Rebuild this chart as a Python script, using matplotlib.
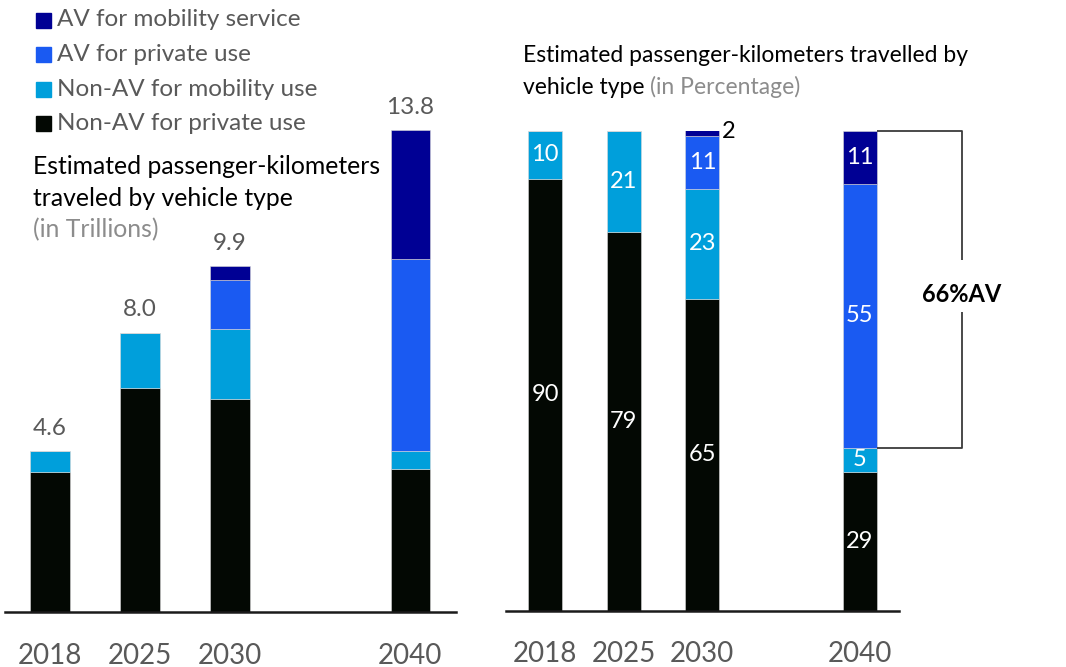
import matplotlib
matplotlib.use("Agg")
import matplotlib.pyplot as plt
import numpy as np

plt.rcParams['font.family'] = ['Lato', 'DejaVu Sans']

# ---- data ----
years = ["2018", "2025", "2030", "2040"]
positions = [0, 1, 2, 4]
series_names = ["Non-AV for private use", "Non-AV for mobility use",
                "AV for private use", "AV for mobility service"]
colors = ["#030803", "#009FDB", "#1A5AF2", "#000094"]

# passenger-km in trillions
trn_nonav_private = [4.0, 6.4, 6.1, 4.1]
trn_nonav_mobility = [0.6, 1.6, 2.0, 0.5]
trn_av_private = [0.0, 0.0, 1.4, 5.5]
trn_av_mobility = [0.0, 0.0, 0.4, 3.7]
trn_totals = [4.6, 8.0, 9.9, 13.8]

# shares in percent
pct_nonav_private = [90, 79, 65, 29]
pct_nonav_mobility = [10, 21, 23, 5]
pct_av_private = [0, 0, 11, 55]
pct_av_mobility = [0, 0, 2, 11]
av_share_2040 = 66

W, H = 1066, 667
fig = plt.figure(figsize=(W / 100, H / 100), dpi=100)

GREY = "#595959"
LIGHT = "#8C8C8C"


def px_axes(x0, y_top, x1, y_bottom):
    return fig.add_axes([x0 / W, 1 - y_bottom / H, (x1 - x0) / W, (y_bottom - y_top) / H])


def ftext(x, y, s, **kw):
    return fig.text(x / W, 1 - y / H, s, **kw)


def style_axes(ax):
    for side in ["left", "right", "top"]:
        ax.spines[side].set_visible(False)
    ax.spines["bottom"].set_linewidth(1.8)
    ax.spines["bottom"].set_color("#1a1a1a")
    ax.set_yticks([])
    ax.set_xticks(positions)
    ax.set_xticklabels(years, fontsize=20, color=GREY)
    ax.tick_params(axis="x", length=0, pad=22)
    ax.set_xlim(-0.5, 4.51)


BAR_W = 0.435

# ---- left panel: trillions ----
axL = px_axes(5, 130, 456, 612)
stackL = [trn_nonav_private, trn_nonav_mobility, trn_av_private, trn_av_mobility]
bottom = np.zeros(len(years))
for vals, c in zip(stackL, colors):
    vals = np.array(vals, dtype=float)
    axL.bar(positions, vals, BAR_W, bottom=bottom, color=c,
            edgecolor="#d9d9d9", linewidth=0.4)
    bottom += vals
axL.set_ylim(0, 13.8)
style_axes(axL)
for p, t in zip(positions, trn_totals):
    axL.annotate(f"{t:.1f}", (p, t), xytext=(0, 9), textcoords="offset points",
                 ha="center", va="bottom", fontsize=17.5, color=GREY,
                 annotation_clip=False)

# ---- right panel: percentages ----
axR = px_axes(505.7, 131, 899, 610.7)
stackR = [pct_nonav_private, pct_nonav_mobility, pct_av_private, pct_av_mobility]
bottom = np.zeros(len(years))
for k, (vals, c) in enumerate(zip(stackR, colors)):
    vals = np.array(vals, dtype=float)
    axR.bar(positions, vals, BAR_W, bottom=bottom, color=c,
            edgecolor="#d9d9d9", linewidth=0.4)
    for p, v, b in zip(positions, vals, bottom):
        if v <= 0:
            continue
        if v < 4:
            axR.text(p + BAR_W / 2 + 0.03, b + v / 2, f"{v:.0f}", ha="left",
                     va="center", fontsize=17, color="black", clip_on=False)
        else:
            axR.text(p, b + v / 2, f"{v:.0f}", ha="center", va="center",
                     fontsize=17, color="white")
    bottom += vals
axR.set_ylim(0, 100)
style_axes(axR)
axR.set_xlim(-0.5, 4.5)

# bracket marking the AV share in 2040
x_edge = 4 + BAR_W / 2
x_br = 5.295
y_lo = pct_nonav_private[3] + pct_nonav_mobility[3]
y_hi = 100
y_mid = (y_lo + y_hi) / 2
gap = 6.2
br_kw = dict(color="#3a3a3a", lw=1.3, clip_on=False, solid_capstyle="butt")
axR.plot([x_edge, x_br, x_br], [y_hi, y_hi, y_mid + gap], **br_kw)
axR.plot([x_edge, x_br, x_br], [y_lo, y_lo, y_mid - gap + 1.5], **br_kw)
axR.text(x_br, y_mid - 1, f"{av_share_2040}%AV", ha="center", va="center",
         fontsize=17, fontweight="bold", color="black", clip_on=False)

# ---- legend ----
legend_items = list(zip(series_names, colors))[::-1]
for i, (name, c) in enumerate(legend_items):
    y = 20 + i * 34.5
    fig.patches.append(plt.Rectangle((36 / W, 1 - (y + 7.5) / H), 15 / W, 15 / H,
                                     transform=fig.transFigure, color=c))
    ftext(57, y, name, fontsize=17.5, color=GREY, va="center", ha="left")

# ---- panel titles ----
ftext(33, 167, "Estimated passenger-kilometers", fontsize=17.8, color="black", va="center")
ftext(33, 198, "traveled by vehicle type", fontsize=17.8, color="black", va="center")
ftext(33, 230, "(in Trillions)", fontsize=17.8, color=LIGHT, va="center")

ftext(523, 55, "Estimated passenger-kilometers travelled by", fontsize=16.5,
      color="black", va="center")
t1 = ftext(523, 87, "vehicle type ", fontsize=16.5, color="black", va="center")
fig.canvas.draw()
bb = t1.get_window_extent()
fig.text(bb.x1 / W, 1 - 87 / H, "(in Percentage)", fontsize=16.5, color=LIGHT, va="center")

fig.savefig("out.png", dpi=100)
